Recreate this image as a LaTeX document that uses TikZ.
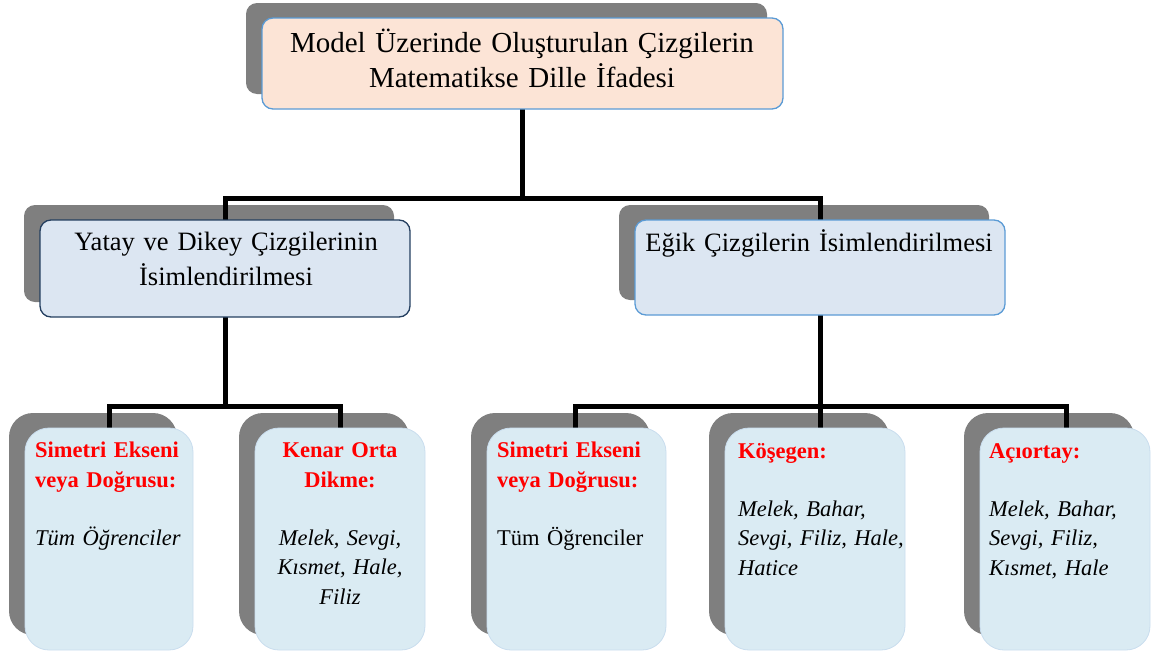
\documentclass[tikz,border=0pt]{standalone}
\usepackage{fontspec}
\setmainfont{Liberation Serif}
\usetikzlibrary{backgrounds}

\definecolor{shadowgray}{HTML}{7F7F7F}
\definecolor{peach}{HTML}{FCE4D6}
\definecolor{accentblue}{HTML}{5B9BD5}
\definecolor{navy}{HTML}{243F60}
\definecolor{paleblue}{HTML}{DCE6F2}
\definecolor{iceblue}{HTML}{DAEBF3}
\definecolor{iceedge}{HTML}{C9DDEE}
\definecolor{headred}{HTML}{FF0000}

\pgfdeclarelayer{shadowlayer}
\pgfdeclarelayer{linelayer}
\pgfsetlayers{shadowlayer,linelayer,main}

\tikzset{
  box/.style={rectangle, inner sep=0pt, outer sep=0pt, line width=1.3pt},
  topbox/.style={box, rounded corners=11pt, fill=peach, draw=accentblue},
  midbox/.style={box, rounded corners=11pt, fill=paleblue},
  leafbox/.style={box, rounded corners=24pt, fill=iceblue, draw=iceedge, line width=0.8pt,
                  minimum height=222pt},
  conn/.style={line width=5pt, black, line cap=rect},
  titletext/.style={inner sep=0pt, anchor=base, align=center, text width=500pt,
                    font=\fontsize{29}{35}\selectfont},
  midtext/.style={inner sep=0pt, anchor=base, align=center, text width=360pt,
                  font=\fontsize{26.5}{35}\selectfont},
  headtext/.style={inner sep=0pt, text width=200pt, text=headred,
                   font=\fontsize{22.5}{30}\selectfont\bfseries},
  bodytext/.style={inner sep=0pt, text width=200pt,
                   font=\fontsize{22.5}{29.5}\selectfont},
  leftcol/.style={anchor=base west, align=left},
  centercol/.style={anchor=base, align=center},
}

% grey offset panel behind a box
\newcommand{\panelshadow}[2]{%
  \fill[shadowgray, rounded corners=#2]
    ([shift={(-16,-15)}]#1.south west) rectangle ([shift={(-16,-15)}]#1.north east);}

\begin{document}
\begin{tikzpicture}[x=1pt, y=-1pt]
\useasboundingbox (0,0) rectangle (1155,653);

% boxes
\node[topbox, minimum width=521pt, minimum height=91pt] (top) at (522.5,63.5) {};
\node[midbox, draw=navy, minimum width=370pt, minimum height=97pt] (lm) at (225,268.5) {};
\node[midbox, draw=accentblue, minimum width=370pt, minimum height=95pt] (rm) at (820,267.5) {};
\node[leafbox, minimum width=168pt] (b1) at (109,539) {};
\node[leafbox, minimum width=170pt] (b2) at (340,539) {};
\node[leafbox, minimum width=179pt] (b3) at (576.5,539) {};
\node[leafbox, minimum width=180pt] (b4) at (815,539) {};
\node[leafbox, minimum width=170pt] (b5) at (1065,539) {};

% shadows
\begin{pgfonlayer}{shadowlayer}
  \panelshadow{top}{11pt}
  \panelshadow{lm}{11pt}
  \panelshadow{rm}{11pt}
  \panelshadow{b1}{24pt}
  \panelshadow{b2}{24pt}
  \panelshadow{b3}{24pt}
  \panelshadow{b4}{24pt}
  \panelshadow{b5}{24pt}
\end{pgfonlayer}

% connectors
\coordinate (h0) at (0,198);
\coordinate (h1) at (0,406);
\begin{pgfonlayer}{linelayer}
  \draw[conn] (top.south) -- (top.south |- h0);
  \draw[conn] (lm.north) -- (lm.north |- h0) -- (rm.north |- h0) -- (rm.north);
  \draw[conn] (lm.south) -- (lm.south |- h1);
  \draw[conn] (b1.north) -- (b1.north |- h1) -- (b2.north |- h1) -- (b2.north);
  \draw[conn] (rm.south) -- (rm.south |- b4.north);
  \draw[conn] ([xshift=-1.5pt]b3.north) -- ([xshift=-1.5pt]b3.north |- h1)
              -- ([xshift=1.5pt]b5.north |- h1) -- ([xshift=1.5pt]b5.north);
\end{pgfonlayer}

% titles
\node[titletext] (ttop) at (522,52) {Model Üzerinde Oluşturulan Çizgilerin\\Matematikse Dille İfadesi};
\node[midtext] (tlm) at (226,250) {Yatay ve Dikey Çizgilerinin\\İsimlendirilmesi};
\node[midtext] (trm) at (819,251) {Eğik Çizgilerin İsimlendirilmesi};

% leaf contents
\node[headtext, leftcol] (h1t) at (35,457) {Simetri Ekseni\\veya Doğrusu:};
\node[bodytext, leftcol] (b1t) at (35,545) {\itshape Tüm Öğrenciler};

\node[headtext, centercol] (h2t) at (340,457) {Kenar Orta\\Dikme:};
\node[bodytext, centercol] (b2t) at (340,545) {\itshape Melek, Sevgi,\\Kısmet, Hale,\\Filiz};

\node[headtext, leftcol] (h3t) at (497,457) {Simetri Ekseni\\veya Doğrusu:};
\node[bodytext, leftcol] (b3t) at (497,545) {Tüm Öğrenciler};

\node[headtext, leftcol] (h4t) at (738,458) {Köşegen:};
\node[bodytext, leftcol] (b4t) at (738,516) {\itshape Melek, Bahar,\\Sevgi, Filiz, Hale,\\Hatice};

\node[headtext, leftcol] (h5t) at (989,458) {Açıortay:};
\node[bodytext, leftcol] (b5t) at (989,516) {\itshape Melek, Bahar,\\Sevgi, Filiz,\\Kısmet, Hale};
\end{tikzpicture}
\end{document}
